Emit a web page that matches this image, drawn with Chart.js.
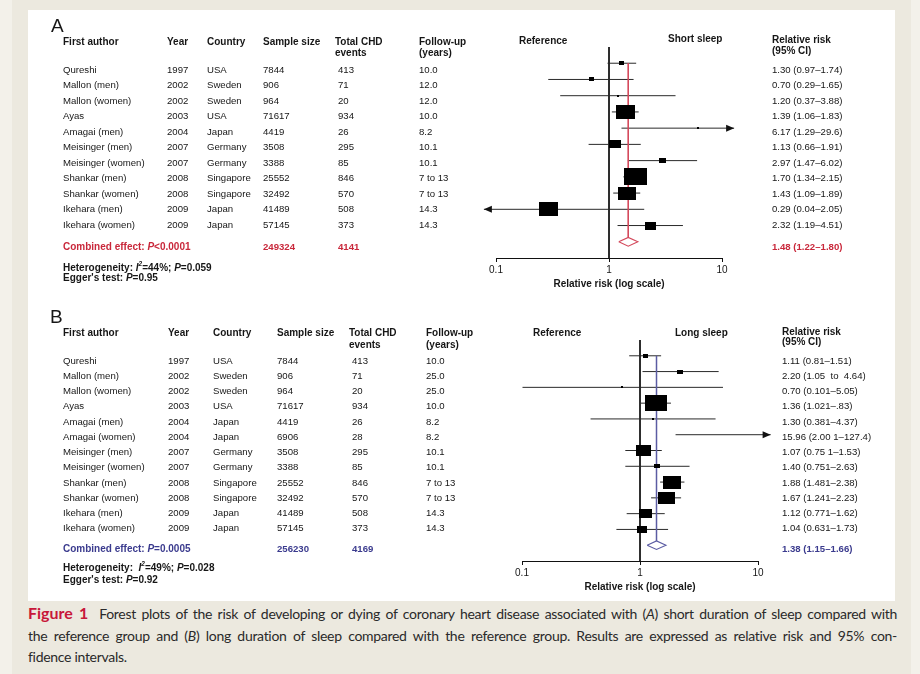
<!DOCTYPE html>
<html>
<head>
<meta charset="utf-8">
<script src="https://cdn.jsdelivr.net/npm/chart.js"></script>
<style>
  html, body { margin: 0; padding: 0; }
  body { width: 920px; height: 674px; background: #f3f1ea; position: relative; overflow: hidden; }
  #page { position: absolute; left: 12px; top: 0; width: 899px; height: 674px; background: #ece9df; }
  #panel { position: absolute; left: 28px; top: 10px; width: 867px; height: 591px; background: #fff; }
  #panel canvas { position: absolute; left: 0; }
  #cA { top: 0; }
  #cB { top: 290px; }
  #caption { position: absolute; left: 28px; top: 602px; width: 869px; font-family: Lato, "Open Sans", sans-serif;
             font-size: 14px; letter-spacing: -0.3px; line-height: 21.5px; color: #2a2a2a; }
  #caption .ln { text-align: justify; text-align-last: justify; }
  #caption .fig { color: #c8173a; font-size: 16px; font-weight: bold; letter-spacing: 0; }
</style>
</head>
<body>
<div id="page"></div>
<div id="panel">
  <canvas id="cA" width="867" height="290"></canvas>
  <canvas id="cB" width="867" height="301"></canvas>
</div>
<div id="caption">
  <div class="ln"><span class="fig">Figure 1</span>&nbsp; Forest plots of the risk of developing or dying of coronary heart disease associated with (<i>A</i>) short duration of sleep compared with</div>
  <div class="ln">the reference group and (<i>B</i>) long duration of sleep compared with the reference group. Results are expressed as relative risk and 95% con-</div>
  <div>fidence intervals.</div>
</div>
<script>
// ---- data: panel A (short sleep) ----
const authorsA = ['Qureshi', 'Mallon (men)', 'Mallon (women)', 'Ayas', 'Amagai (men)', 'Meisinger (men)',
  'Meisinger (women)', 'Shankar (men)', 'Shankar (women)', 'Ikehara (men)', 'Ikehara (women)'];
const yearsA = [1997, 2002, 2002, 2003, 2004, 2007, 2007, 2008, 2008, 2009, 2009];
const countriesA = ['USA', 'Sweden', 'Sweden', 'USA', 'Japan', 'Germany', 'Germany', 'Singapore', 'Singapore', 'Japan', 'Japan'];
const samplesA = [7844, 906, 964, 71617, 4419, 3508, 3388, 25552, 32492, 41489, 57145];
const eventsA = [413, 71, 20, 934, 26, 295, 85, 846, 570, 508, 373];
const followA = ['10.0', '12.0', '12.0', '10.0', '8.2', '10.1', '10.1', '7 to 13', '7 to 13', '14.3', '14.3'];
const rrA = [1.30, 0.70, 1.20, 1.39, 6.17, 1.13, 2.97, 1.70, 1.43, 0.29, 2.32];
const loA = [0.97, 0.29, 0.37, 1.06, 1.29, 0.66, 1.47, 1.34, 1.09, 0.04, 1.19];
const hiA = [1.74, 1.65, 3.88, 1.83, 29.6, 1.91, 6.02, 2.15, 1.89, 2.05, 4.51];
const weightA = [1.4, 1.4, 0.2, 18.8, 0.3, 6.9, 2.5, 26.7, 16.9, 18.8, 6.1]; // % weight -> box size
const rrLabelsA = ['1.30 (0.97–1.74)', '0.70 (0.29–1.65)', '1.20 (0.37–3.88)', '1.39 (1.06–1.83)', '6.17 (1.29–29.6)',
  '1.13 (0.66–1.91)', '2.97 (1.47–6.02)', '1.70 (1.34–2.15)', '1.43 (1.09–1.89)', '0.29 (0.04–2.05)', '2.32 (1.19–4.51)'];
const pooledA = [1.48, 1.22, 1.80];
const totalsA = [249324, 4141];
const statsA = ['<0.0001', '44%', '0.059', '0.95']; // P, I2, P(het), Egger P

// ---- data: panel B (long sleep) ----
const authorsB = ['Qureshi', 'Mallon (men)', 'Mallon (women)', 'Ayas', 'Amagai (men)', 'Amagai (women)', 'Meisinger (men)',
  'Meisinger (women)', 'Shankar (men)', 'Shankar (women)', 'Ikehara (men)', 'Ikehara (women)'];
const yearsB = [1997, 2002, 2002, 2003, 2004, 2004, 2007, 2007, 2008, 2008, 2009, 2009];
const countriesB = ['USA', 'Sweden', 'Sweden', 'USA', 'Japan', 'Japan', 'Germany', 'Germany', 'Singapore', 'Singapore', 'Japan', 'Japan'];
const samplesB = [7844, 906, 964, 71617, 4419, 6906, 3508, 3388, 25552, 32492, 41489, 57145];
const eventsB = [413, 71, 20, 934, 26, 28, 295, 85, 846, 570, 508, 373];
const followB = ['10.0', '25.0', '25.0', '10.0', '8.2', '8.2', '10.1', '10.1', '7 to 13', '7 to 13', '14.3', '14.3'];
const rrB = [1.11, 2.20, 0.70, 1.36, 1.30, 15.96, 1.07, 1.40, 1.88, 1.67, 1.12, 1.04];
const loB = [0.81, 1.05, 0.101, 1.02, 0.381, 2.001, 0.751, 0.751, 1.481, 1.241, 0.771, 0.631];
const hiB = [1.51, 4.64, 5.05, 1.83, 4.37, 127.4, 1.53, 2.63, 2.38, 2.23, 1.62, 1.73];
const weightB = [1.7, 1.9, 0.2, 29.4, 0.2, 0, 12.8, 1.9, 19.8, 17.1, 9.5, 5.6];
const rrLabelsB = ['1.11 (0.81–1.51)', '2.20 (1.05  to  4.64)', '0.70 (0.101–5.05)', '1.36 (1.021–.83)', '1.30 (0.381–4.37)',
  '15.96 (2.00 1–127.4)', '1.07 (0.75 1–1.53)', '1.40 (0.751–2.63)', '1.88 (1.481–2.38)', '1.67 (1.241–2.23)',
  '1.12 (0.771–1.62)', '1.04 (0.631–1.73)'];
const pooledB = [1.38, 1.15, 1.66];
const totalsB = [256230, 4169];
const statsB = ['=0.0005', '49%', '0.028', '0.92'];

const xTicks = [0.1, 1, 10];
const columnHeads = [['First author'], ['Year'], ['Country'], ['Sample size'], ['Total CHD', 'events'], ['Follow-up', '(years)']];

const F = '"Liberation Sans", Arial, Helvetica, sans-serif';
const INK = '#161616';
const ARROW = 1.28;     // how far past the axis a truncated CI runs
const DIAMOND_H = 0.27; // half height of the pooled diamond, in rows

function boxImage(w) {
  const c = document.createElement('canvas');
  c.width = Math.max(2, Math.round(w));
  c.height = Math.max(2, Math.round(w * 0.72));
  const g = c.getContext('2d');
  g.fillStyle = '#000';
  g.fillRect(0, 0, c.width, c.height);
  return c;
}

function rich(ctx, x, y, parts) {
  for (const [t, st] of parts) {
    const sup = st.includes('s');
    ctx.font = (st.includes('i') ? 'italic ' : '') + 'bold ' + (sup ? 6.5 : 10) + 'px ' + F;
    ctx.fillText(t, x, sup ? y - 3.5 : y);
    x += ctx.measureText(t).width;
  }
}

// arrowheads for CIs running past the axis (points outside the chart area are not drawn by Chart.js)
function drawArrows(chart, arrows) {
  const ctx = chart.ctx, xs = chart.scales.x, ys = chart.scales.y;
  ctx.save();
  ctx.fillStyle = '#111';
  arrows.forEach(a => {
    const px = xs.getPixelForValue(a.x), py = ys.getPixelForValue(a.y), s = a.dir;
    ctx.beginPath();
    ctx.moveTo(px, py);
    ctx.lineTo(px - s * 8, py - 3.5);
    ctx.lineTo(px - s * 8, py + 3.5);
    ctx.closePath();
    ctx.fill();
  });
  ctx.restore();
}

function drawTable(chart, d, L) {
  const ctx = chart.ctx;
  ctx.save();
  ctx.textBaseline = 'middle';
  ctx.textAlign = 'left';
  ctx.fillStyle = INK;
  ctx.font = '19px ' + F;
  ctx.fillText(d.label, L.label[0], L.label[1]);

  ctx.font = 'bold 10px ' + F;
  columnHeads.forEach((h, c) => h.forEach((t, k) => ctx.fillText(t, L.headX[c], L.headY[k])));
  ctx.fillText('Reference', L.ref[0], L.ref[1]);
  ctx.fillText(d.side, L.side[0], L.side[1]);
  ctx.fillText('Relative risk', L.rrX, L.rrHead[0]);
  ctx.fillText('(95% CI)', L.rrX, L.rrHead[1]);

  ctx.font = '9.6px ' + F;
  d.authors.forEach((a, i) => {
    const y = L.rowY + i * L.rowStep;
    const cells = [a, d.years[i], d.countries[i], d.samples[i], d.events[i], d.follow[i]];
    cells.forEach((c, k) => ctx.fillText(String(c), L.colX[k], y));
    ctx.fillText(d.rrLabels[i], L.rrX, y);
  });

  // combined row
  ctx.fillStyle = d.accentText;
  rich(ctx, L.colX[0], L.combY, [['Combined effect: ', 'b'], ['P', 'bi'], [d.stats[0], 'b']]);
  ctx.font = 'bold 9.6px ' + F;
  ctx.fillText(String(d.totals[0]), L.colX[3], L.combY);
  ctx.fillText(String(d.totals[1]), L.colX[4], L.combY);
  const pr = d.pooled;
  ctx.fillText(pr[0].toFixed(2) + ' (' + pr[1].toFixed(2) + '–' + pr[2].toFixed(2) + ')', L.rrX, L.combY);

  ctx.fillStyle = INK;
  rich(ctx, L.colX[0], L.het[0], [[d.hetLead, 'b'], ['I', 'bi'], ['2', 'bis'], ['=' + d.stats[1] + '; ', 'b'], ['P', 'bi'], ['=' + d.stats[2], 'b']]);
  rich(ctx, L.colX[0], L.het[1], [["Egger's test: ", 'b'], ['P', 'bi'], ['=' + d.stats[3], 'b']]);
  ctx.restore();
}

function forestPanel(id, d, L) {
  const n = d.rr.length;
  const lo0 = xTicks[0], hi0 = xTicks[xTicks.length - 1];

  const ci = [], arrows = [];
  d.lo.forEach((lo, i) => {
    const a = lo < lo0 ? lo0 / ARROW : lo;
    const b = d.hi[i] > hi0 ? hi0 * ARROW : d.hi[i];
    ci.push({ x: a, y: i }, { x: b, y: i }, { x: b, y: null });
    if (lo < lo0) arrows.push({ x: a, y: i, dir: -1 });
    if (d.hi[i] > hi0) arrows.push({ x: b, y: i, dir: 1 });
  });

  const boxes = [], boxStyles = [];
  d.rr.forEach((r, i) => {
    if (r < lo0 || r > hi0 || d.weight[i] <= 0) return;
    boxes.push({ x: r, y: i });
    boxStyles.push(boxImage(L.boxK * Math.sqrt(d.weight[i])));
  });

  const [pr, pl, ph] = d.pooled;
  const diamond = [{ x: pl, y: n }, { x: pr, y: n - DIAMOND_H }, { x: ph, y: n }, { x: pr, y: n + DIAMOND_H }, { x: pl, y: n }];

  return new Chart(document.getElementById(id), {
    type: 'scatter',
    data: {
      datasets: [
        { data: boxes, pointStyle: boxStyles, pointRadius: 3, clip: false },
        { type: 'line', data: diamond, borderColor: d.accentLine, borderWidth: 1.1, pointRadius: 0, fill: false, tension: 0 },
        { type: 'line', data: [{ x: pr, y: 0 }, { x: pr, y: n - DIAMOND_H }], borderColor: d.accentLine,
          borderWidth: d.poolWidth, pointRadius: 0 },
        { type: 'line', data: ci, borderColor: '#2a2a2a', borderWidth: 1, pointRadius: 0, spanGaps: false, clip: false },
        { type: 'line', data: [{ x: 1, y: -1 }, { x: 1, y: n + 1 }], borderColor: '#111', borderWidth: 1, pointRadius: 0 }
      ]
    },
    options: {
      responsive: false,
      animation: false,
      events: [],
      layout: { padding: L.pad },
      plugins: { legend: { display: false }, tooltip: { enabled: false } },
      scales: {
        x: {
          type: 'logarithmic', min: lo0, max: hi0, position: 'bottom',
          afterBuildTicks: s => { s.ticks = xTicks.map(v => ({ value: v })); },
          afterFit: s => { s.height = 32; },
          ticks: { autoSkip: false, maxRotation: 0, padding: 2, color: INK, font: { family: F, size: 10 },
                   callback: v => String(v) },
          grid: { drawOnChartArea: false, drawTicks: true, tickLength: 4, color: '#111' },
          border: { display: true, color: '#111', width: 1 },
          title: { display: true, text: 'Relative risk (log scale)', color: INK,
                   font: { family: F, size: 10, weight: 'bold' }, padding: { top: 0, bottom: 0 } }
        },
        y: { type: 'linear', reverse: true, min: -1, max: n + 1, display: false }
      }
    },
    plugins: [{
      id: 'table',
      afterDatasetsDraw: chart => drawArrows(chart, arrows),
      afterDraw: chart => drawTable(chart, d, L)
    }]
  });
}

forestPanel('cA', {
  label: 'A', side: 'Short sleep', authors: authorsA, years: yearsA, countries: countriesA, samples: samplesA,
  events: eventsA, follow: followA, rr: rrA, lo: loA, hi: hiA, weight: weightA, rrLabels: rrLabelsA,
  pooled: pooledA, totals: totalsA, stats: statsA, hetLead: 'Heterogeneity: ',
  accentText: '#c9283b', accentLine: '#d3475a', poolWidth: 1
}, {
  pad: { left: 468, right: 173, top: 37, bottom: 10 }, boxK: 4.45,
  label: [23, 17], headX: [35, 139, 179, 235, 307, 391], headY: [32, 43],
  colX: [35, 139, 179, 235, 310, 391], rowY: 60, rowStep: 15.5, combY: 237, het: [258, 268],
  ref: [491, 31], side: [640, 29.5], rrX: 744, rrHead: [30, 41.5]
});

forestPanel('cB', {
  label: 'B', side: 'Long sleep', authors: authorsB, years: yearsB, countries: countriesB, samples: samplesB,
  events: eventsB, follow: followB, rr: rrB, lo: loB, hi: hiB, weight: weightB, rrLabels: rrLabelsB,
  pooled: pooledB, totals: totalsB, stats: statsB, hetLead: 'Heterogeneity:  ',
  accentText: '#3b3b8e', accentLine: '#5b5ca3', poolWidth: 1.5
}, {
  pad: { left: 494, right: 137, top: 40, bottom: 8 }, boxK: 4.1,
  label: [22, 18], headX: [35, 140, 185, 249, 321, 398], headY: [33, 45],
  colX: [35, 140, 185, 249, 324, 398], rowY: 61, rowStep: 15.24, combY: 249, het: [268, 280],
  ref: [505, 33], side: [647, 33], rrX: 754, rrHead: [32.7, 42.3]
});
</script>
</body>
</html>
